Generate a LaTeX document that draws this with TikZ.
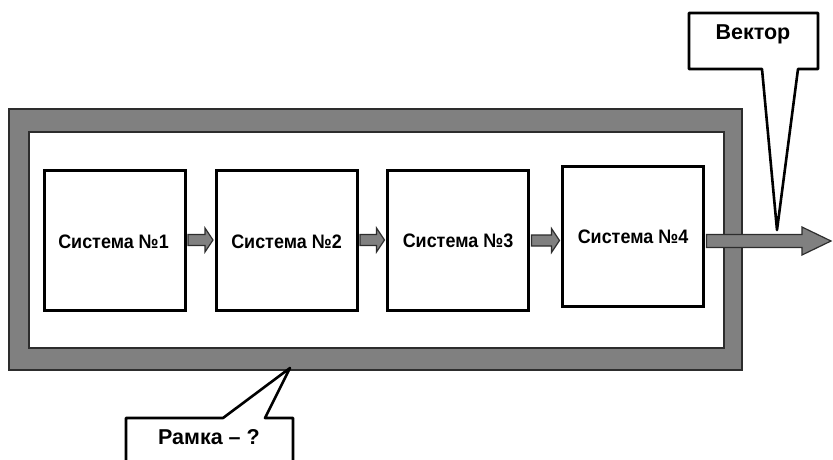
\documentclass[tikz,border=0pt]{standalone}
\usepackage{fontspec}
\setmainfont{Liberation Sans}
\newfontfamily\sysfont{Liberation Sans}[FakeStretch=0.92]
\usetikzlibrary{calc}
\definecolor{framegray}{RGB}{128,128,128}
\definecolor{edgegray}{RGB}{45,45,45}

% horizontal block arrow: #1 start, #2 tip, #3 shaft half-height, #4 head half-height, #5 head length
\newcommand\blockarr[5]{%
  \path[blockarrow] let \p1=(#1), \p2=(#2) in
    (\x1,{\y1+#3pt}) -- ({\x2-#5pt},{\y1+#3pt}) -- ({\x2-#5pt},{\y1+#4pt}) --
    (\x2,\y1) --
    ({\x2-#5pt},{\y1-#4pt}) -- ({\x2-#5pt},{\y1-#3pt}) -- (\x1,{\y1-#3pt}) -- cycle;}

\begin{document}
\begin{tikzpicture}[x=1pt,y=-1pt,
  sysbox/.style={draw=black, line width=3pt, fill=white,
    minimum width=141pt, minimum height=140pt, inner sep=0pt},
  systext/.style={font=\sysfont\bfseries\fontsize{19.5}{22}\selectfont,
    text height=0.72em, text depth=0pt, inner sep=0pt},
  blockarrow/.style={draw=edgegray, line width=1.2pt, fill=framegray, line join=miter},
  framerect/.style={draw=edgegray, line width=1.2pt},
  callout/.style={draw=black, line width=2.6pt, fill=white, line join=round},
  calltext/.style={font=\bfseries\fontsize{21.5}{24}\selectfont,
    text height=0.72em, text depth=0pt, inner sep=0pt}]
\useasboundingbox (0,0) rectangle (833,459);
\clip (0,0) rectangle (833,459);

% the frame around the chain of systems
\draw[framerect, fill=framegray] (9,109) rectangle (742,370);
\draw[framerect, fill=white] (29,132) rectangle (724,348);

% systems
\node[sysbox] (s1) at (114.5,240) {};
\node[sysbox] (s2) at (286.5,240) {};
\node[sysbox] (s3) at (458,240.5) {};
\node[sysbox] (s4) at (633,236.5) {};

\node[systext] (t1) at ($(s1.center)+(-1,4.7)$) {Система №1};
\node[systext] (t2) at ($(s2.center)+(0,4.5)$) {Система №2};
\node[systext] (t3) at ($(s3.center)+(0,3.5)$) {Система №3};
\node[systext] (t4) at ($(s4.center)+(0,3.5)$) {Система №4};

% links between the systems
\blockarr{$(s1.east)+(1.5,0)$}{$(s2.west)+(-1.5,0)$}{5.5}{12}{8}
\blockarr{$(s2.east)+(1.5,0)$}{$(s3.west)+(-1.5,0)$}{5.5}{12}{8}
\blockarr{$(s3.east)+(1.5,0)$}{$(s4.west)+(-1.5,0)$}{5.5}{12}{8}

% output vector
\coordinate (o1) at ($(s4.east)+(1.5,4.5)$);
\coordinate (o2) at (831,241);
\blockarr{o1}{o2}{6.5}{14}{29}

% callouts
\draw[callout] (689,13) -- (818,13) -- (818,69) -- (798,69) -- (777,230)
  -- (762,69) -- (689,69) -- cycle;
\node[calltext] (vec) at (753,35.5) {Вектор};

\draw[callout] (126,475) -- (126,418) -- (223,418) -- (290,368) -- (265,418)
  -- (293,418) -- (293,475) -- cycle;
\node[calltext] (ram) at (209,440.5) {Рамка – ?};
\end{tikzpicture}
\end{document}
